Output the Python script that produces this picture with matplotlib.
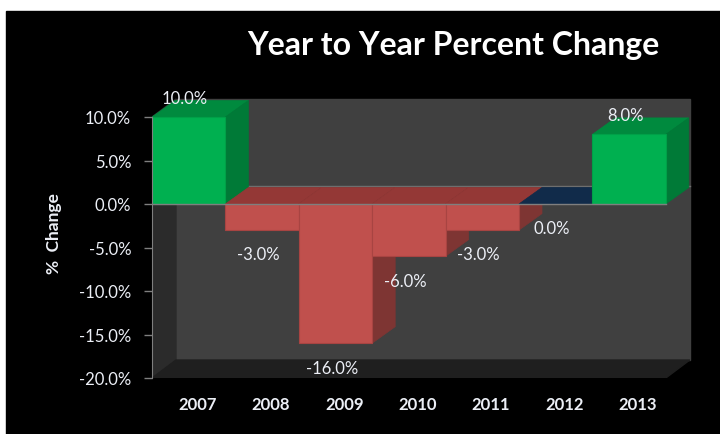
import matplotlib.pyplot as plt
from matplotlib.patches import Polygon, Rectangle

plt.rcParams['font.family'] = ['Lato', 'DejaVu Sans']

years = ['2007', '2008', '2009', '2010', '2011', '2012', '2013']
change = [10.0, -3.0, -16.0, -6.0, -3.0, 0.0, 8.0]
yticks = [-20, -15, -10, -5, 0, 5, 10]

# colours: front, side, top
pos_cols = ('#00B050', '#007A37', '#008A3E')
neg_cols = ('#C0504D', '#7E3533', '#943836')
zero_top = '#112B4A'
txt = '#ECEFF6'

W, H = 720, 435
fig = plt.figure(figsize=(W / 100, H / 100), dpi=100, facecolor='white')
fig.patches.append(Rectangle((6 / W, 0), 1, (H - 12) / H, transform=fig.transFigure,
                             color='black', zorder=-10))

# axes in pixel space: front plane 152..666 px, -20%..10% -> 379..116 px
left, right, top, bottom = 152, 700, 88, 379
ax = fig.add_axes([left / W, (H - bottom) / H, (right - left) / W, (bottom - top) / H])
ax.set_facecolor('none')
px_x = 73.4
px_y = 8.7
ax.set_xlim(-0.5, -0.5 + (right - left) / px_x)
ax.set_ylim(-20, -20 + (bottom - top) / px_y)

D, E = 24 / px_x, 18 / px_y  # depth of the 3d box
bd, be = 23 / px_x, 16.5 / px_y  # depth of bars
x0, x1 = -0.5, len(years) - 0.5
ymin, ymax = -20, 10

# walls
ax.add_patch(Polygon([(x0 + D, ymin + E), (x1 + D, ymin + E), (x1 + D, ymax + E), (x0 + D, ymax + E)],
                     closed=True, color='#404040', zorder=0))
ax.add_patch(Polygon([(x0, ymin), (x0 + D, ymin + E), (x0 + D, ymax + E), (x0, ymax)],
                     closed=True, color='#2B2B2B', zorder=0))
ax.add_patch(Polygon([(x0, ymin), (x1, ymin), (x1 + D, ymin + E), (x0 + D, ymin + E)],
                     closed=True, color='#1F1F1F', zorder=0))
ax.plot([x0 + D, x1 + D], [E, E], color='#6E6E6E', lw=1, zorder=1)

for i, v in enumerate(change):
    front, side, topc = pos_cols if v > 0 else neg_cols
    if v == 0:
        topc = zero_top
    ytop = max(v, 0)
    # top face
    ax.add_patch(Polygon([(i - 0.5, ytop), (i + 0.5, ytop), (i + 0.5 + bd, ytop + be), (i - 0.5 + bd, ytop + be)],
                         closed=True, facecolor=topc, edgecolor=topc, lw=0.5, zorder=2 + i))
    if v != 0:
        # side face
        ax.add_patch(Polygon([(i + 0.5, 0), (i + 0.5, v), (i + 0.5 + bd, v + be), (i + 0.5 + bd, be)],
                             closed=True, facecolor=side, edgecolor=side, lw=0.5, zorder=2 + i))
        ax.bar(i, v, width=1, color=front, edgecolor='#A84442' if v < 0 else '#00A048',
               lw=0.8, zorder=2.5 + i)
    if v > 0:
        ax.text(i - 0.05, v + 2.2, f'{v:.1f}%', ha='center', va='center', color=txt,
                fontsize=12, zorder=20)
    else:
        ax.text(i - 0.05, v - 2.8, f'{v:.1f}%', ha='center', va='center', color=txt,
                fontsize=12, zorder=20)

ax.plot([x0, x1], [0, 0], color='#7F7F7F', lw=1, zorder=15)

for s in ['top', 'right', 'bottom']:
    ax.spines[s].set_visible(False)
ax.spines['left'].set_bounds(ymin, ymax)
ax.spines['left'].set_color('#7F7F7F')
ax.spines['left'].set_position(('data', x0))
ax.spines['left'].set_zorder(16)

ax.set_yticks(yticks)
ax.set_yticklabels([f'{t:.1f}%' for t in yticks])
ax.tick_params(axis='y', colors='#7F7F7F', labelcolor=txt, length=6, width=1,
               pad=9, labelsize=12)
ax.set_xticks([i + 0.12 for i in range(len(years))])
ax.set_xticklabels(years, fontweight='bold')
ax.tick_params(axis='x', length=0, pad=13, labelcolor=txt, labelsize=12)

ax.set_ylabel('%  Change', color=txt, fontweight='bold', fontsize=12.5, labelpad=12)

fig.text(453 / W, 1 - 45 / H, 'Year to Year Percent Change', ha='center', va='center',
         color='white', fontsize=23, fontweight='bold')

fig.savefig('out.png', dpi=100, facecolor='white')
